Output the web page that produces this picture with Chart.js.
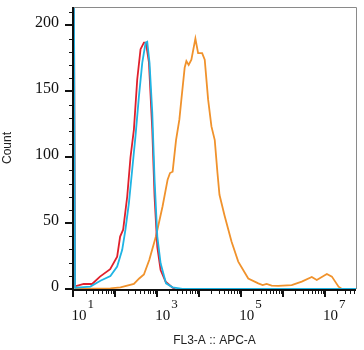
<!DOCTYPE html>
<html>
<head>
<meta charset="utf-8">
<script src="https://cdn.jsdelivr.net/npm/chart.js@4.4.1/dist/chart.umd.min.js"></script>
<style>
  html, body { margin: 0; padding: 0; background: #fff; }
  #wrap { width: 364px; height: 350px; }
</style>
</head>
<body>
<div id="wrap"><canvas id="histChart" width="364" height="350"></canvas></div>
<script>
// FL3-A :: APC-A histogram overlay
const blueX = [10, 11.2, 15, 26, 45, 78, 113, 149, 178, 215, 258, 309, 373, 448, 537, 589, 668, 776, 881, 1023, 1227, 1652, 2375, 4055, 56000000];
const blueCounts = [400, 1, 1.3, 1.8, 6.3, 9.9, 17, 29.7, 45, 65, 90.5, 116, 146, 171.6, 186.8, 187.6, 171.6, 134, 83, 40, 19.5, 4.3, 1.3, 0, 0];

const redX = [10, 11.2, 18, 28.5, 44, 77, 113, 133, 157, 196, 235, 283, 340, 408, 491, 548, 647, 776, 881, 1023, 1227, 1616, 2375, 2754];
const redCounts = [400, 2, 3.8, 3.8, 9.4, 15, 24.6, 39.8, 45, 70, 100, 121, 159, 182, 187, 187, 172, 121, 70, 32, 14.4, 5.6, 1, 0];

const orangeX = [10, 11.5, 78, 135, 283, 379, 491, 658, 951, 1368, 1803, 2056, 2375, 2864, 3436, 3837, 4600, 5050, 5730, 6650,
  8290, 9620, 12000, 13840, 16680, 20000, 24000, 27860, 31100, 40900, 60200, 87100, 151000, 262000, 333000, 414000, 546000, 789000,
  1640000, 2850000, 4940000, 6500000, 11300000, 14900000, 21500000, 25800000, 56000000];
const orangeCounts = [10, 0, 0.5, 1.3, 3.8, 8, 11, 22, 40, 62.8, 83, 88, 89, 113, 128.5, 143.7, 168, 172.9, 170, 174,
  190, 179, 179, 174, 143.7, 123.4, 113, 88, 71.5, 56, 36, 20.8, 8, 4.3, 3, 3.8, 2.6, 2.3,
  3, 5.6, 9.1, 6.8, 11.4, 9.4, 1.8, 0, 0];

const yMajorTicks = [0, 50, 100, 150, 200];
const xDecades = [1e1, 1e2, 1e3, 1e4, 1e5, 1e6, 1e7];
const xLabelExps = [1, 3, 5, 7];

const X_MIN = 10, X_MAX = 56000000;
const Y_MIN = 0, Y_MAX = 214;

function toPoints(xs, ys) {
    return xs.map((x, i) => ({ x: x, y: ys[i] }));
}

// axis frame, tick marks and serif tick labels
const axisDecor = {
    id: 'axisDecor',
    afterDraw(chart) {
        const ctx = chart.ctx;
        const xs = chart.scales.x;
        const ys = chart.scales.y;
        const a = chart.chartArea;
        ctx.save();

        // grey frame top / right
        ctx.strokeStyle = '#8a8a8a';
        ctx.lineWidth = 1;
        ctx.beginPath();
        ctx.moveTo(a.left, a.top + 0.5);
        ctx.lineTo(a.right + 0.5, a.top + 0.5);
        ctx.lineTo(a.right + 0.5, a.bottom);
        ctx.stroke();

        // axis lines
        ctx.strokeStyle = '#111';
        ctx.lineWidth = 2;
        ctx.beginPath();
        ctx.moveTo(a.left, a.top);
        ctx.lineTo(a.left, a.bottom + 1);
        ctx.lineTo(a.right, a.bottom + 1);
        ctx.stroke();

        // y minor ticks every 10
        ctx.lineWidth = 1;
        for (let v = 10; v <= 210; v += 10) {
            if (v % 50 === 0) continue;
            const py = Math.round(ys.getPixelForValue(v)) + 0.5;
            ctx.beginPath();
            ctx.moveTo(a.left - 4, py);
            ctx.lineTo(a.left, py);
            ctx.stroke();
        }
        // y major ticks + labels
        ctx.font = '16px "Liberation Serif", serif';
        ctx.fillStyle = '#111';
        ctx.textAlign = 'right';
        ctx.textBaseline = 'middle';
        yMajorTicks.forEach(v => {
            const py = Math.round(ys.getPixelForValue(v));
            ctx.lineWidth = 2;
            ctx.beginPath();
            ctx.moveTo(a.left - 8, py);
            ctx.lineTo(a.left, py);
            ctx.stroke();
            ctx.fillText(String(v), a.left - 14, py - 2);
        });

        // x ticks (log decades + minors)
        const base = a.bottom + 1;
        xDecades.forEach(d => {
            const px = Math.round(xs.getPixelForValue(d));
            ctx.lineWidth = 2;
            ctx.beginPath();
            ctx.moveTo(px, base);
            ctx.lineTo(px, base + 7);
            ctx.stroke();
            ctx.lineWidth = 1;
            for (let m = 2; m <= 9; m++) {
                const v = d * m;
                if (v > X_MAX) break;
                const mx = Math.round(xs.getPixelForValue(v)) + 0.5;
                ctx.beginPath();
                ctx.moveTo(mx, base);
                ctx.lineTo(mx, base + 4);
                ctx.stroke();
            }
        });

        // x labels: 10 with raised exponent
        ctx.textBaseline = 'alphabetic';
        xLabelExps.forEach(e => {
            const px = xs.getPixelForValue(Math.pow(10, e));
            ctx.font = '15px "Liberation Serif", serif';
            ctx.textAlign = 'center';
            const cx = px + 6;
            ctx.fillText('10', cx, 320);
            const w = ctx.measureText('10').width;
            ctx.font = '13px "Liberation Serif", serif';
            ctx.textAlign = 'left';
            ctx.fillText(String(e), cx + w / 2 + 1, 308);
        });

        ctx.restore();
    }
};

const lineStyle = {
    borderWidth: 1.8,
    pointRadius: 0,
    tension: 0,
    fill: false
};

new Chart(document.getElementById('histChart').getContext('2d'), {
    type: 'line',
    data: {
        datasets: [
            Object.assign({ label: 'blue', data: toPoints(blueX, blueCounts), borderColor: '#1fb4e4' }, lineStyle),
            Object.assign({ label: 'red', data: toPoints(redX, redCounts), borderColor: '#e0202c' }, lineStyle),
            Object.assign({ label: 'orange', data: toPoints(orangeX, orangeCounts), borderColor: '#f0922c' }, lineStyle)
        ]
    },
    options: {
        responsive: false,
        devicePixelRatio: 1,
        animation: false,
        layout: { padding: { top: 7, right: 8, left: 0, bottom: 0 } },
        plugins: {
            legend: { display: false },
            tooltip: { enabled: false }
        },
        scales: {
            x: {
                type: 'logarithmic',
                min: X_MIN,
                max: X_MAX,
                grid: { display: false },
                border: { display: false },
                ticks: { display: false },
                title: {
                    display: true,
                    text: 'FL3-A :: APC-A',
                    color: '#222',
                    font: { family: '"Liberation Sans", Arial, sans-serif', size: 12 },
                    padding: { top: 0, bottom: 2 }
                },
                afterFit(scale) { scale.height = 61; }
            },
            y: {
                min: Y_MIN,
                max: Y_MAX,
                grid: { display: false },
                border: { display: false },
                ticks: { display: false },
                title: {
                    display: true,
                    text: 'Count',
                    color: '#222',
                    font: { family: '"Liberation Sans", Arial, sans-serif', size: 12 },
                    padding: { top: 0, bottom: 2 }
                },
                afterFit(scale) { scale.width = 73; }
            }
        }
    },
    plugins: [axisDecor]
});
</script>
</body>
</html>
